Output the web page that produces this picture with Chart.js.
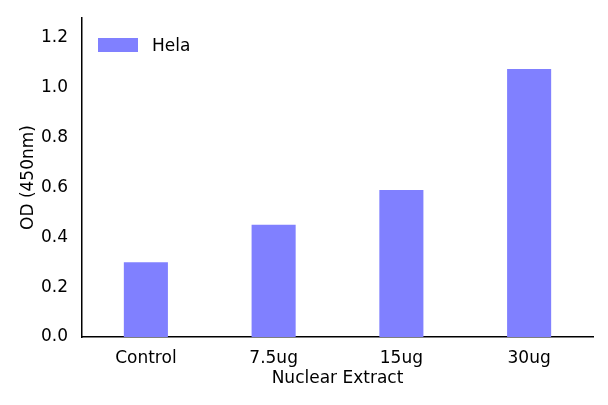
<!DOCTYPE html>
<html><head><script src="https://cdn.jsdelivr.net/npm/chart.js@4"></script>
<style>body{margin:0;background:#fff}#w{position:relative;width:608px;height:405px}
#lg{position:absolute;left:98px;top:35px;font:17px "DejaVu Sans";display:flex;align-items:center}
#lg span{display:inline-block;width:40px;height:14px;background:#8080ff;margin-right:14px}</style></head>
<body><div id="w"><canvas id="c" width="608" height="405"></canvas><div id="lg"><span></span>Hela</div></div>
<script>
const categories=["Control","7.5ug","15ug","30ug"];
const helaValues=[0.30,0.45,0.59,1.075];
const yTicks=[0,0.2,0.4,0.6,0.8,1.0,1.2];
const F={family:"DejaVu Sans",size:17};
new Chart(document.getElementById('c'),{type:'bar',
data:{labels:categories,datasets:[{label:'Hela',data:helaValues,backgroundColor:'#8080ff',barPercentage:0.345,categoryPercentage:1}]},
options:{responsive:false,animation:false,layout:{padding:{top:18,right:15,left:14,bottom:16}},
plugins:{legend:{display:false},tooltip:{enabled:false}},
scales:{x:{grid:{display:false},border:{color:'#000',width:1.5},ticks:{color:'#000',font:F,padding:3},
title:{display:true,text:'Nuclear Extract',color:'#000',font:F,padding:0},afterFit:s=>{s.height=52}},
y:{min:0,max:1.28,grid:{display:false},border:{color:'#000',width:1.5},
afterBuildTicks:s=>{s.ticks=yTicks.map(v=>({value:v}))},
ticks:{color:'#000',font:F,padding:6,callback:v=>v.toFixed(1)},
title:{display:true,text:'OD (450nm)',color:'#000',font:F,padding:4},afterFit:s=>{s.width=68}}}}});
</script></body></html>
